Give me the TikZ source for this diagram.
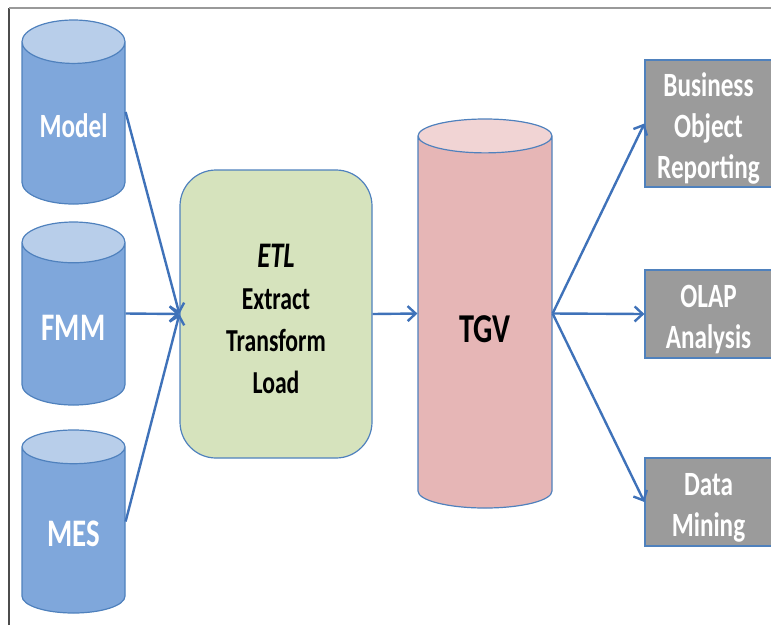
\documentclass[tikz,border=0pt]{standalone}
\usepackage{fontspec}
\setmainfont{Carlito}[FakeStretch=0.74]
\usetikzlibrary{shapes.geometric,arrows.meta}
\definecolor{edgeblue}{HTML}{4F81BD}
\definecolor{arrowblue}{HTML}{3F72B9}
\definecolor{dbbody}{HTML}{7FA7DB}
\definecolor{dbtop}{HTML}{B8CEEA}
\definecolor{tgvbody}{HTML}{E6B6B6}
\definecolor{tgvtop}{HTML}{F1D4D4}
\definecolor{etlfill}{HTML}{D6E3BD}
\definecolor{toolgray}{HTML}{9B9B9B}
\newcommand{\fsz}[2]{\fontsize{#1}{#2}\selectfont}
\newcommand{\dblabel}[2]{\raisebox{#1}[0pt][0pt]{#2}}
\newcommand{\topstrut}[1]{\rule{0pt}{#1}}
\begin{document}
\begin{tikzpicture}[x=1pt,y=-1pt,
  >={Straight Barb[length=8pt,width=15pt]},
  db/.style={cylinder,shape border rotate=90,aspect=0.64,anchor=shape center,
    draw=edgeblue,line width=1.2pt,
    cylinder uses custom fill,cylinder body fill=dbbody,cylinder end fill=dbtop,
    minimum width=103pt,minimum height=183pt,inner sep=0pt,text=white,font=\bfseries},
  tool/.style={rectangle,draw=edgeblue,line width=1.2pt,fill=toolgray,minimum width=127pt,
    inner sep=0pt,text=white,align=center,font=\bfseries\fsz{34}{41}},
  flow/.style={->,line width=2.4pt,arrowblue}]
\useasboundingbox (0,0) rectangle (771,625);
\draw[black!70,line width=1.2pt] (9,625) -- (9,8);
\draw[gray!80,line width=1.5pt] (9,8) -- (771,8);
% sources
\node[db,minimum height=184pt] (model) at (73.5,112) {\dblabel{-14pt}{\fsz{34}{40}Model}};
\node[db] (fmm) at (73.5,313.5) {\dblabel{-16pt}{\fsz{39}{45}FMM}};
\node[db] (mes) at (73.5,521.5) {\dblabel{-16pt}{\fsz{39}{45}MES}};
% staging
\node[rectangle,rounded corners=36pt,draw=edgeblue,line width=1.2pt,fill=etlfill,
  minimum width=192pt,minimum height=288pt,align=center,font=\bfseries\fsz{32}{42}]
  (etl) at (276,314) {\topstrut{34pt}{\itshape\fsz{36}{42}ETL}\\Extract\\Transform\\Load};
\node[db,aspect=0.66,minimum width=134pt,minimum height=389pt,cylinder body fill=tgvbody,
  cylinder end fill=tgvtop,text=black] (tgv) at (485,313.5) {\dblabel{-20pt}{\fsz{41}{47}TGV}};
% consumers
\node[tool,minimum height=127pt] (bor) at (708.5,123.5) {\topstrut{34pt}Business\\Object\\Reporting};
\node[tool,minimum height=88pt] (olap) at (708.5,314) {\topstrut{34pt}OLAP\\Analysis};
\node[tool,minimum height=88pt] (dm) at (708.5,502) {\topstrut{34pt}Data\\Mining};
\draw[flow] (model.shape center -| model.east) -- (etl.west);
\draw[flow] (fmm.shape center -| fmm.east) -- (etl.west);
\draw[flow] (mes.shape center -| mes.east) -- (etl.west);
\draw[flow] (etl.east) -- (tgv.shape center -| tgv.west);
\draw[flow] (tgv.shape center -| tgv.east) -- (bor.west);
\draw[flow] (tgv.shape center -| tgv.east) -- (olap.west);
\draw[flow] (tgv.shape center -| tgv.east) -- (dm.west);
\end{tikzpicture}
\end{document}
